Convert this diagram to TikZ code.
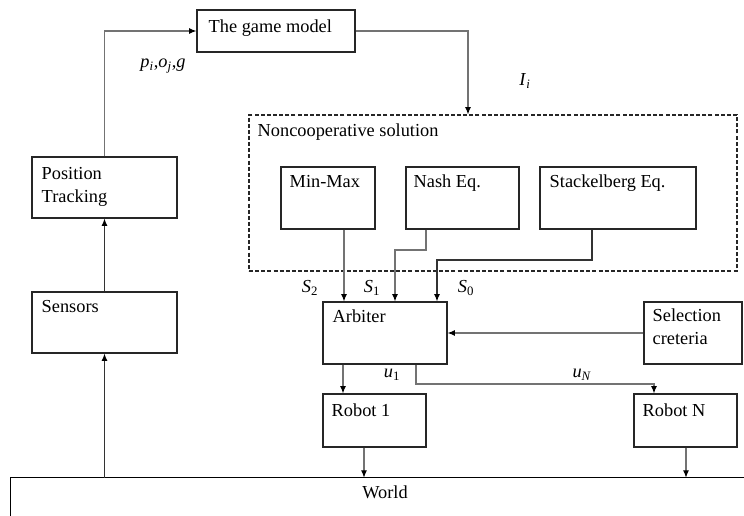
\documentclass[tikz,border=0pt]{standalone}
\usepackage{fontspec}
\setmainfont{Liberation Serif}
\usetikzlibrary{arrows.meta,fit,calc}
\newcommand{\iv}[1]{\textit{#1}}
\begin{document}
\begin{tikzpicture}[x=0.75pt,y=-0.75pt,
  font=\fontsize{13.75}{17.25}\selectfont,
  box/.style={draw=black!85,line width=0.8pt,inner sep=0pt},
  dbox/.style={draw=black!85,line width=0.8pt,inner sep=0pt,dash pattern=on 3pt off 1.6pt},
  txt/.style={anchor=base west,inner sep=0pt,align=left},
  lab/.style={anchor=base,inner sep=0pt},
  conn/.style={draw=black!55,line width=0.9pt,-{Latex[length=5.5pt,width=4.5pt,color=black]}},
  connd/.style={draw=black!80,line width=0.9pt,-{Latex[length=5.5pt,width=4.5pt,color=black]}},
]
\useasboundingbox (0,0) rectangle (744,516);
% boxes
\node[box,fit={(197,10)(355,52)}] (gm) {};
\node[txt] (gmt) at ($(gm.north west)+(12,23)$) {The game model};
\node[dbox,fit={(249,115)(737,271)}] (nc) {};
\node[txt] (nct) at ($(nc.north west)+(9,22)$) {Noncooperative solution};
\node[box,fit={(281,167)(375,229)}] (mm) {};
\node[txt] (mmt) at ($(mm.north west)+(9,21)$) {Min-Max};
\node[box,fit={(406,167)(519,229)}] (ne) {};
\node[txt] (net) at ($(ne.north west)+(8,21)$) {Nash Eq.};
\node[box,fit={(540,167)(696,229)}] (se) {};
\node[txt] (set) at ($(se.north west)+(10,21)$) {Stackelberg Eq.};
\node[box,fit={(32,157)(177,218)}] (pt) {};
\node[txt] (ptt) at ($(pt.north west)+(10,46)$) {Position\\Tracking};
\node[box,fit={(32,292)(177,353)}] (sn) {};
\node[txt] (snt) at ($(sn.north west)+(10,21)$) {Sensors};
\node[box,fit={(323,302)(447,364)}] (ar) {};
\node[txt] (art) at ($(ar.north west)+(10,21)$) {Arbiter};
\node[box,fit={(644,302)(742,364)}] (sc) {};
\node[txt] (sct) at ($(sc.north west)+(9,43)$) {Selection\\creteria};
\node[box,fit={(323,394)(426,447)}] (r1) {};
\node[txt] (r1t) at ($(r1.north west)+(9,23)$) {Robot 1};
\node[box,fit={(634,394)(737,447)}] (rn) {};
\node[txt] (rnt) at ($(rn.north west)+(9,23)$) {Robot N};
\node[inner sep=0pt,fit={(11,478)(744,516)}] (wd) {};
\draw[black,line width=0.9pt] (wd.south west) -- (wd.north west) -- (wd.north east);
\node[lab] (wdt) at (385,499) {World};
% labels
\node[lab] (lp) at (163,68) {\iv{p}\textsubscript{\iv{i}},\iv{o}\textsubscript{\iv{j}},\iv{g}};
\node[lab] (li) at (525,86) {\iv{I}\textsubscript{\iv{i}}};
\node[lab] (ls2) at (310,293) {\iv{S}\textsubscript{2}};
\node[lab] (ls1) at (372,293) {\iv{S}\textsubscript{1}};
\node[lab] (ls0) at (466,293) {\iv{S}\textsubscript{0}};
\node[lab] (lu1) at (392,378) {\iv{u}\textsubscript{1}};
\node[lab] (lun) at (582,378) {\iv{u}\textsubscript{\iv{N}}};
% connectors
\draw[connd] (wd.north west -| sn.south) -- (sn.south);
\draw[connd] (sn.north) -- (pt.south);
\draw[conn] (pt.north) |- (gm.west);
\draw[conn] (gm.east) -| (nc.north -| 468,0);
\draw[conn] (mm.south -| 344,0) -- (ar.north -| 344,0);
\draw[conn] (ne.south -| 426,0) -- (426,250) -- (395,250) -- (ar.north -| 395,0);
\draw[connd] (se.south -| 592,0) -- (592,260) -- (437,260) -- (ar.north -| 437,0);
\draw[conn] (sc.west |- 0,333) -- (ar.east |- 0,333);
\draw[conn] (ar.south -| 343,0) -- (r1.north -| 343,0);
\draw[conn] (ar.south -| 416,0) -- (416,384) -- (654,384) -- (rn.north -| 654,0);
\draw[conn] (r1.south -| 364,0) -- (wd.north -| 364,0);
\draw[conn] (rn.south -| 686,0) -- (wd.north -| 686,0);
\end{tikzpicture}
\end{document}
